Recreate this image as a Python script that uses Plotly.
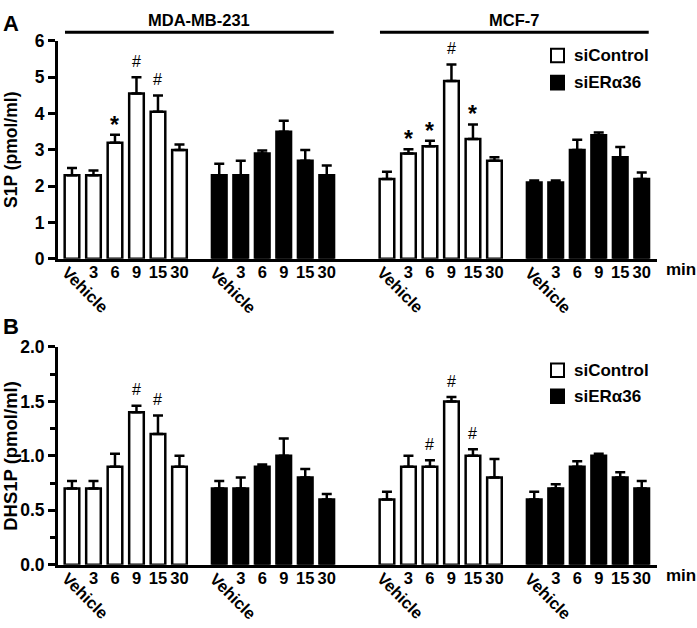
import plotly.graph_objects as go

# ---------------- data ----------------
time_labels = ["Vehicle", "3", "6", "9", "15", "30"]
cell_lines = ["MDA-MB-231", "MCF-7"]
series_names = ["siControl", "siERα36"]

# Panel A: S1P (pmol/ml)
s1p_mda_sic = [2.3, 2.3, 3.2, 4.55, 4.05, 3.0]
s1p_mda_sic_err = [0.2, 0.13, 0.22, 0.45, 0.45, 0.15]
s1p_mda_sie = [2.3, 2.3, 2.9, 3.5, 2.7, 2.3]
s1p_mda_sie_err = [0.32, 0.4, 0.08, 0.3, 0.3, 0.27]
s1p_mcf_sic = [2.2, 2.9, 3.1, 4.9, 3.3, 2.7]
s1p_mcf_sic_err = [0.2, 0.12, 0.15, 0.45, 0.4, 0.1]
s1p_mcf_sie = [2.1, 2.1, 3.0, 3.4, 2.8, 2.2]
s1p_mcf_sie_err = [0.06, 0.06, 0.28, 0.08, 0.28, 0.18]
s1p_mda_sic_sig = ["", "", "*", "#", "#", ""]
s1p_mcf_sic_sig = ["", "*", "*", "#", "*", ""]
s1p_ticks = [0, 1, 2, 3, 4, 5, 6]

# Panel B: DHS1P (pmol/ml)
dhs1p_mda_sic = [0.7, 0.7, 0.9, 1.4, 1.2, 0.9]
dhs1p_mda_sic_err = [0.07, 0.07, 0.12, 0.06, 0.17, 0.1]
dhs1p_mda_sie = [0.7, 0.7, 0.9, 1.0, 0.8, 0.6]
dhs1p_mda_sie_err = [0.07, 0.1, 0.02, 0.16, 0.08, 0.05]
dhs1p_mcf_sic = [0.6, 0.9, 0.9, 1.5, 1.0, 0.8]
dhs1p_mcf_sic_err = [0.07, 0.1, 0.06, 0.04, 0.06, 0.17]
dhs1p_mcf_sie = [0.6, 0.7, 0.9, 1.0, 0.8, 0.7]
dhs1p_mcf_sie_err = [0.07, 0.04, 0.05, 0.02, 0.05, 0.07]
dhs1p_mda_sic_sig = ["", "", "", "#", "#", ""]
dhs1p_mcf_sic_sig = ["", "", "#", "#", "#", ""]
dhs1p_ticks = [0.0, 0.5, 1.0, 1.5, 2.0]

# ---------------- layout helpers ----------------
W, H = 697, 628
FONT = "Liberation Sans, Arial, Helvetica, sans-serif"
n = len(time_labels)
GAP_IN = 0.85      # extra gap between siControl / siERα36 groups
GAP_OUT = 1.8      # extra gap between cell lines
g0 = 0.0
g1 = g0 + n + GAP_IN
g2 = g1 + n + GAP_OUT
g3 = g2 + n + GAP_IN
group_starts = [g0, g1, g2, g3]
pos = [[gs + i for i in range(n)] for gs in group_starts]
X_RANGE = [-0.65, 27.21]
X_DOM = [58 / W, 657 / W]

def py(px):
    return (H - px) / H

def b(t):
    return "<b>" + t + "</b>"

panels = [
    dict(yref="y", xref="x", dom=[py(257), py(32)], rng=[0, 6], ticks=s1p_ticks, fmt="{:d}",
         title="S1P (pmol/ml)", tsize=17.5, label="A", label_y=14, leg_y=[47, 75],
         sic=[s1p_mda_sic, s1p_mcf_sic], sic_err=[s1p_mda_sic_err, s1p_mcf_sic_err],
         sie=[s1p_mda_sie, s1p_mcf_sie], sie_err=[s1p_mda_sie_err, s1p_mcf_sie_err],
         sig=[s1p_mda_sic_sig, s1p_mcf_sic_sig], minor=None),
    dict(yref="y2", xref="x2", dom=[py(573), py(348)], rng=[0, 2], ticks=dhs1p_ticks, fmt="{:.1f}",
         title="DHS1P (pmol/ml)", tsize=18.5, label="B", label_y=327, leg_y=[372, 399],
         sic=[dhs1p_mda_sic, dhs1p_mcf_sic], sic_err=[dhs1p_mda_sic_err, dhs1p_mcf_sic_err],
         sie=[dhs1p_mda_sie, dhs1p_mcf_sie], sie_err=[dhs1p_mda_sie_err, dhs1p_mcf_sie_err],
         sig=[dhs1p_mda_sic_sig, dhs1p_mcf_sic_sig], minor=0.25),
]

fig = go.Figure()
annotations = []
shapes = []

for p in panels:
    xs_sic = pos[0] + pos[2]
    xs_sie = pos[1] + pos[3]
    ys_sic = p["sic"][0] + p["sic"][1]
    es_sic = p["sic_err"][0] + p["sic_err"][1]
    ys_sie = p["sie"][0] + p["sie"][1]
    es_sie = p["sie_err"][0] + p["sie_err"][1]
    for xs, ys, es, fill, name in [(xs_sic, ys_sic, es_sic, "white", series_names[0]),
                                   (xs_sie, ys_sie, es_sie, "black", series_names[1])]:
        fig.add_trace(go.Bar(
            x=xs, y=ys, name=name, width=0.68, showlegend=False,
            marker=dict(color=fill, line=dict(color="black", width=2.5)),
            error_y=dict(type="data", symmetric=False, array=es, arrayminus=[0] * len(es),
                         color="black", thickness=2.5, width=5),
            xaxis=p["xref"], yaxis=p["yref"],
        ))
    # significance marks
    for ci in range(2):
        for i in range(n):
            s = p["sig"][ci][i]
            if not s:
                continue
            top = p["sic"][ci][i] + p["sic_err"][ci][i]
            annotations.append(dict(
                x=pos[2 * ci][i], y=top, xref=p["xref"], yref=p["yref"],
                text=(b(s) if s == "*" else s), showarrow=False, xanchor="center", yanchor="middle",
                yshift=(10 if s == "*" else 16),
                font=dict(family=FONT, size=(23 if s == "*" else 16), color="black"),
            ))
    # rotated "Vehicle" labels
    for gi in range(4):
        annotations.append(dict(
            x=pos[gi][0], y=0, xref=p["xref"], yref=p["yref"], text=b(time_labels[0]),
            textangle=45, showarrow=False, xanchor="center", yanchor="middle",
            xshift=14, yshift=-31,
            font=dict(family=FONT, size=16.5, color="black"),
        ))
    # "min" label
    annotations.append(dict(
        x=664 / W, y=0, xref="paper", yref=p["yref"], text=b("min"), showarrow=False,
        xanchor="left", yanchor="middle", yshift=-11,
        font=dict(family=FONT, size=17, color="black"),
    ))
    # y-axis title
    annotations.append(dict(
        x=11 / W, y=(p["dom"][0] + p["dom"][1]) / 2, xref="paper", yref="paper",
        text=b(p["title"]), textangle=-90, showarrow=False, xanchor="center", yanchor="middle",
        font=dict(family=FONT, size=p["tsize"], color="black"),
    ))
    # panel letter
    annotations.append(dict(
        x=11 / W, y=py(p["label_y"]), xref="paper", yref="paper", text=b(p["label"]),
        showarrow=False, xanchor="center", yanchor="middle",
        font=dict(family=FONT, size=22, color="black"),
    ))
    # legend (drawn)
    for k, (name, fill) in enumerate([(series_names[0], "white"), (series_names[1], "black")]):
        yc = p["leg_y"][k]
        shapes.append(dict(type="rect", xref="paper", yref="paper",
                           x0=551 / W, x1=564 / W, y0=py(yc + 7), y1=py(yc - 7),
                           line=dict(color="black", width=2), fillcolor=fill))
        annotations.append(dict(
            x=572 / W, y=py(yc), xref="paper", yref="paper", text=b(name), showarrow=False,
            xanchor="left", yanchor="middle",
            font=dict(family=FONT, size=17, color="black"),
        ))

# cell line headers on top panel
for ci, name in enumerate(cell_lines):
    start = pos[2 * ci][0]
    end = pos[2 * ci + 1][-1]
    center = (start + end) / 2
    shapes.append(dict(type="line", xref="x", yref="paper", x0=center - 6.25, x1=center + 6.25,
                       y0=py(23), y1=py(23), line=dict(color="black", width=3)))
    annotations.append(dict(
        x=center, y=py(10), xref="x", yref="paper", text=b(name), showarrow=False,
        xanchor="center", yanchor="middle",
        font=dict(family=FONT, size=16.5, color="black"),
    ))

tickvals = []
ticktext = []
for gi in range(4):
    for i in range(1, n):
        tickvals.append(pos[gi][i])
        ticktext.append(b(time_labels[i]))

xax = dict(domain=X_DOM, range=X_RANGE, showline=True, linewidth=3, linecolor="black",
           ticks="", tickmode="array", tickvals=tickvals, ticktext=ticktext,
           tickfont=dict(family=FONT, size=16.5, color="black"), ticklabelstandoff=-4,
           showgrid=False, zeroline=False, fixedrange=True)

def yax(p):
    d = dict(domain=p["dom"], range=p["rng"], tickmode="array", tickvals=p["ticks"],
             ticktext=[b(p["fmt"].format(t)) for t in p["ticks"]],
             showline=True, linewidth=3, linecolor="black", ticks="outside", ticklen=7,
             tickwidth=2.5, tickcolor="black", showgrid=False, zeroline=False,
             tickfont=dict(family=FONT, size=17.5, color="black"))
    if p["minor"]:
        d["minor"] = dict(tickmode="linear", tick0=0, dtick=p["minor"], ticks="outside",
                          ticklen=5, tickwidth=2.5, tickcolor="black", showgrid=False)
    return d

fig.update_layout(
    width=W, height=H, margin=dict(l=0, r=0, t=0, b=0),
    paper_bgcolor="white", plot_bgcolor="white",
    barmode="overlay", showlegend=False,
    font=dict(family=FONT, color="black"),
    xaxis=dict(xax, anchor="y"),
    yaxis=dict(yax(panels[0]), anchor="x"),
    xaxis2=dict(xax, anchor="y2"),
    yaxis2=dict(yax(panels[1]), anchor="x2"),
    annotations=annotations, shapes=shapes,
)

fig.write_html("out.html", config={"displayModeBar": False},
               post_script="document.body.style.margin='0';")
